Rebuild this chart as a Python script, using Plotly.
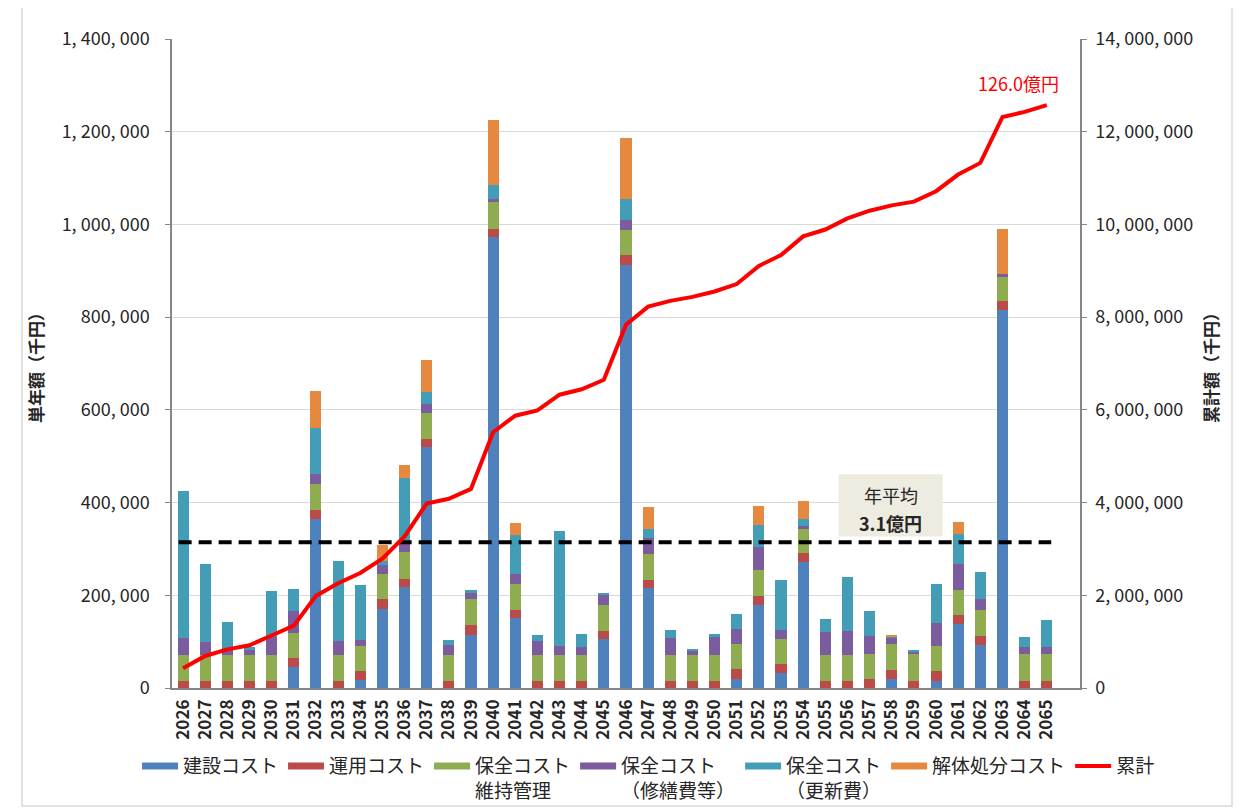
import numpy as np
import plotly.graph_objects as go

years = list(range(2026, 2066))

construction = [0, 0, 0, 0, 0, 45000, 365000, 0, 17000, 171000,
                218000, 519000, 0, 115000, 973000, 150000, 0, 0, 0, 105000,
                913000, 215000, 0, 0, 0, 20000, 179000, 32000, 271000, 0,
                0, 0, 19000, 0, 16000, 137000, 93000, 815000, 0, 0]
operation = [16000, 16000, 16000, 16000, 16000, 20000, 20000, 16000, 19000, 20000,
             18000, 18000, 16000, 20000, 18000, 18000, 16000, 16000, 16000, 19000,
             20000, 19000, 16000, 16000, 16000, 21000, 19000, 20000, 20000, 16000,
             16000, 20000, 20000, 16000, 20000, 21000, 20000, 20000, 16000, 16000]
maintenance = [56000, 56000, 56000, 56000, 56000, 54000, 55000, 56000, 55000, 54000,
               57000, 56000, 56000, 56000, 57000, 57000, 56000, 56000, 56000, 56000,
               55000, 56000, 56000, 56000, 56000, 54000, 56000, 54000, 53000, 56000,
               56000, 54000, 55000, 57000, 55000, 54000, 55000, 53000, 57000, 57000]
repair = [35000, 27000, 14000, 9000, 37000, 47000, 22000, 29000, 12000, 20000,
          20000, 19000, 21000, 16000, 6000, 20000, 29000, 19000, 17000, 22000,
          21000, 33000, 35000, 9000, 40000, 33000, 50000, 20000, 6000, 48000,
          52000, 39000, 16000, 6000, 49000, 55000, 23000, 4000, 16000, 15000]
renewal = [317000, 168000, 57000, 7000, 101000, 48000, 98000, 172000, 119000, 10000,
           141000, 26000, 11000, 4000, 30000, 85000, 14000, 247000, 28000, 2000,
           45000, 21000, 19000, 4000, 4000, 32000, 47000, 107000, 14000, 28000,
           116000, 53000, 1000, 2000, 85000, 66000, 60000, 0, 20000, 58000]
demolition = [0, 0, 0, 0, 0, 0, 81000, 0, 0, 33000,
              27000, 70000, 0, 0, 141000, 25000, 0, 0, 0, 0,
              133000, 47000, 0, 0, 0, 0, 41000, 0, 40000, 0,
              0, 0, 4000, 0, 0, 26000, 0, 99000, 0, 0]

series_names = ["建設コスト", "運用コスト", "保全コスト<br>維持管理",
                "保全コスト<br>（修繕費等）", "保全コスト<br>（更新費）", "解体処分コスト"]
series_values = [construction, operation, maintenance, repair, renewal, demolition]
colors = ["#4f81bd", "#bb4b49", "#8fad50", "#7a5c9f", "#439db6", "#e4893f"]
line_name = "累計"
total_label = "126.0億円"
avg_title = "年平均"
avg_value = "<b>3.1億円</b>"

left_ticks = list(range(0, 1400001, 200000))
right_ticks = list(range(0, 14000001, 2000000))

totals = np.sum(np.array(series_values), axis=0)
cumulative = np.cumsum(totals)
average = float(np.mean(totals))

FONT = "Noto Sans CJK JP"
fig = go.Figure()

for name, vals, c in zip(series_names, series_values, colors):
    fig.add_trace(go.Bar(x=years, y=vals, name=name, marker=dict(color=c, line=dict(width=0)),
                         width=0.5, showlegend=False))

fig.add_trace(go.Scatter(x=years, y=cumulative, yaxis="y2", mode="lines",
                         line=dict(color="#ff0000", width=4), showlegend=False))
fig.add_trace(go.Scatter(x=[years[0] - 0.2, years[-1] + 0.2], y=[average, average], mode="lines",
                         line=dict(color="#000000", width=4, dash="13px,7px"), showlegend=False))

# legend entries
for name, c in zip(series_names, colors):
    fig.add_trace(go.Scatter(x=[None], y=[None], mode="lines", name=name,
                             line=dict(color=c, width=7)))
fig.add_trace(go.Scatter(x=[None], y=[None], mode="lines", name=line_name,
                         line=dict(color="#ff0000", width=4)))

def fmt(v):
    return f"{v:,}".replace(",", ", ")

axis_gray = "#868686"
fig.update_layout(
    width=1245, height=800,
    margin=dict(l=164, r=173, t=31, b=120, autoexpand=False),
    paper_bgcolor="white", plot_bgcolor="white",
    barmode="stack",
    font=dict(family=FONT, size=18, color="#262626"),
    xaxis=dict(range=[years[0] - 0.5, years[-1] + 1.5], tickvals=years,
               ticktext=[f"<b>{y}</b>" for y in years], tickangle=-90,
               tickfont=dict(size=17, color="#262626"), ticklabelstandoff=3,
               showline=True, linecolor=axis_gray, linewidth=1.5, showgrid=False,
               ticks="", zeroline=False),
    yaxis=dict(range=[0, 1400000], tickvals=left_ticks, ticktext=[fmt(v) for v in left_ticks],
               showline=True, linecolor=axis_gray, linewidth=1.5, ticks="outside",
               ticklen=5, tickcolor=axis_gray, showgrid=True, gridcolor="#d9d9d9",
               gridwidth=1, zeroline=False, ticklabelstandoff=12,
               title=dict(text="<b>単年額（千円）</b>", font=dict(size=17), standoff=14)),
    yaxis2=dict(range=[0, 14000000], tickvals=right_ticks, ticktext=[fmt(v) for v in right_ticks],
                overlaying="y", side="right", showline=True, linecolor=axis_gray, linewidth=1.5,
                ticks="outside", ticklen=5, tickcolor=axis_gray, showgrid=False, zeroline=False,
                ticklabelstandoff=5,
                title=dict(text="<b>累計額（千円）</b>", font=dict(size=17), standoff=14)),
    legend=dict(orientation="h", x=-0.0385, xanchor="left", y=-0.091, yanchor="top",
                font=dict(size=19, color="#262626"), valign="top", itemwidth=36,
                traceorder="normal", bgcolor="rgba(0,0,0,0)"),
    shapes=[
        dict(type="rect", xref="paper", yref="paper", x0=-0.1652, x1=1.1674,
             y0=-0.1818, y1=1.0524, line=dict(color="#d9d9d9", width=1.5),
             fillcolor="rgba(0,0,0,0)", layer="below"),
        dict(type="rect", xref="x", yref="y", x0=2055.6, x1=2060.3, y0=327000, y1=461000,
             line=dict(width=0), fillcolor="#eeece1", layer="above"),
    ],
    annotations=[
        dict(x=years[-1], y=float(cumulative[-1]), xref="x", yref="y2", text=total_label,
             showarrow=False, xanchor="right", yanchor="bottom", xshift=14, yshift=7,
             font=dict(size=18, color="#ff0000")),
        dict(x=2057.95, y=416000, xref="x", yref="y", text=avg_title, showarrow=False,
             xanchor="center", yanchor="middle", font=dict(size=18, color="#262626")),
        dict(x=2057.95, y=357000, xref="x", yref="y", text=avg_value, showarrow=False,
             xanchor="center", yanchor="middle", font=dict(size=18, color="#262626")),
    ],
)

fig.write_html("out.html")
